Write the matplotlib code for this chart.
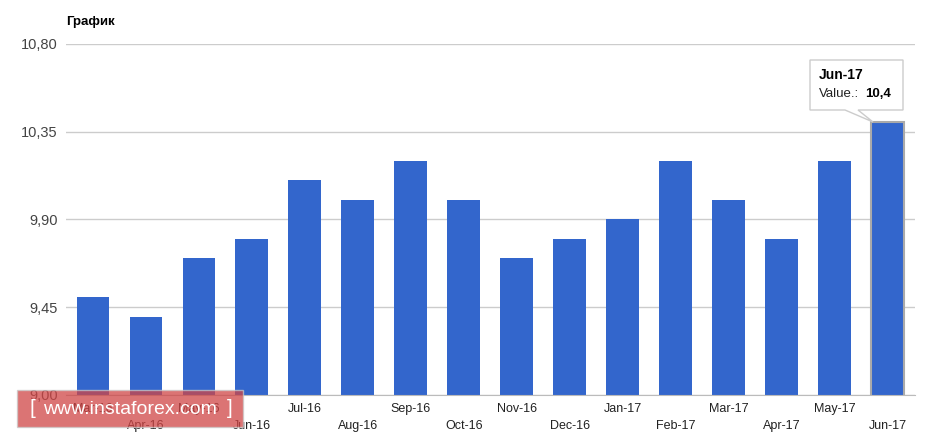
import matplotlib.pyplot as plt
import matplotlib.patches as mpatches

# data
months = ["Mar-16", "Apr-16", "May-16", "Jun-16", "Jul-16", "Aug-16", "Sep-16", "Oct-16",
          "Nov-16", "Dec-16", "Jan-17", "Feb-17", "Mar-17", "Apr-17", "May-17", "Jun-17"]
values = [9.5, 9.4, 9.7, 9.8, 10.1, 10.0, 10.2, 10.0,
          9.7, 9.8, 9.9, 10.2, 10.0, 9.8, 10.2, 10.4]
yticks = [9.00, 9.45, 9.90, 10.35, 10.80]
ytick_labels = ["9,00", "9,45", "9,90", "10,35", "10,80"]

plt.rcParams["font.family"] = ["Liberation Sans", "DejaVu Sans"]
fig = plt.figure(figsize=(9.34, 4.41), dpi=100)
ax = fig.add_axes([66/934, 46/441, 849/934, 351/441])

x = list(range(len(months)))
bars = ax.bar(x, values, width=0.62, color="#3366cc", zorder=3)
# hovered bar gets a grey outline
bars[-1].set_edgecolor("#aaaaaa")
bars[-1].set_linewidth(1.5)

ax.set_xlim(-0.51, 15.52)
ax.set_ylim(9.0, 10.8)
ax.set_yticks(yticks)
ax.set_yticklabels(ytick_labels, color="#444444", fontsize=10.5)
ax.grid(axis="y", color="#cccccc", linewidth=1, zorder=0)
ax.tick_params(axis="both", length=0)
ax.tick_params(axis="y", pad=6)
for s in ["top", "right", "left"]:
    ax.spines[s].set_visible(False)
ax.spines["bottom"].set_color("#bbbbbb")
ax.spines["bottom"].set_zorder(4)

# staggered month labels
ax.set_xticks(x)
ax.set_xticklabels([])
for i, m in enumerate(months):
    off = -10 if i % 2 == 0 else -22
    ax.annotate(m, (i, 9.0), xytext=(0, off), textcoords="offset points",
                ha="center", va="center", fontsize=9, color="#222222",
                annotation_clip=False)

fig.text(66/934, 1 - 22/441, "График", fontsize=9.5, fontweight="bold",
         ha="left", va="center", color="#000000")

# tooltip on the last bar
tx0, ty0, tw, th = 810, 60, 93, 50
tip = mpatches.Polygon([(tx0/934, 1 - ty0/441), ((tx0 + tw)/934, 1 - ty0/441),
                        ((tx0 + tw)/934, 1 - (ty0 + th)/441),
                        (858/934, 1 - (ty0 + th)/441), (873/934, 1 - 122/441),
                        (845/934, 1 - (ty0 + th)/441), (tx0/934, 1 - (ty0 + th)/441)],
                       closed=True, transform=fig.transFigure, facecolor="white",
                       edgecolor="#cccccc", linewidth=1, zorder=10)
fig.patches.append(tip)
fig.text(819/934, 1 - 75/441, "Jun-17", fontsize=10, fontweight="bold",
         ha="left", va="center", zorder=11)
fig.text(819/934, 1 - 94/441, "Value.:", fontsize=9.5, ha="left", va="center",
         color="#222222", zorder=11)
fig.text(865/934, 1 - 94/441, "10,4", fontsize=9.5, fontweight="bold",
         ha="left", va="center", zorder=11)

# watermark
wm = mpatches.Rectangle((17/934, 1 - 427/441), 226/934, 37/441, transform=fig.transFigure,
                        facecolor="#d04545", alpha=0.75, edgecolor="#c9c9c9",
                        linewidth=1, zorder=20)
fig.patches.append(wm)
fig.text(32/934, 1 - 409/441, "[", fontsize=15, color="white",
         ha="center", va="center", zorder=21)
fig.text(130/934, 1 - 409/441, "www.instaforex.com", fontsize=14, color="white",
         ha="center", va="center", zorder=21)
fig.text(230/934, 1 - 409/441, "]", fontsize=15, color="white",
         ha="center", va="center", zorder=21)

fig.savefig("out.png", dpi=100)
